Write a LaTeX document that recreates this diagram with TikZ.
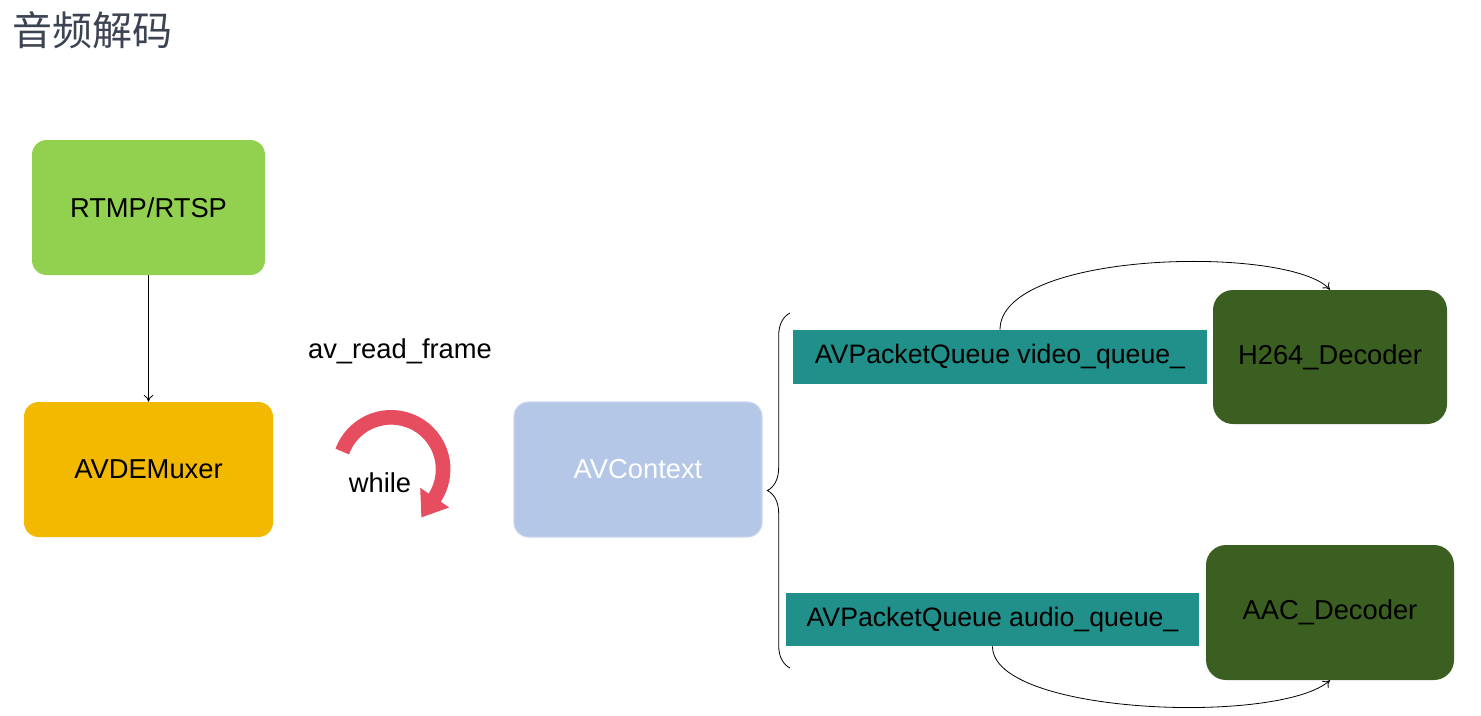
\documentclass[tikz,border=0pt]{standalone}
\usepackage{fontspec}
\setmainfont{Liberation Sans}
\newfontfamily\cjk{Noto Sans CJK SC}
\usepackage{tikz}
\usetikzlibrary{positioning,calc,arrows.meta,decorations.pathreplacing}
\definecolor{verdeclaro}{HTML}{92D050}
\definecolor{ouro}{HTML}{F2B900}
\definecolor{azulctx}{HTML}{B4C7E7}
\definecolor{azulborda}{HTML}{C9D6EE}
\definecolor{fila}{HTML}{21908A}
\definecolor{verdeesc}{HTML}{3B5E21}
\definecolor{vermelho}{HTML}{E64D5F}
\definecolor{titcor}{HTML}{3C4352}
\tikzset{
  bloco/.style={rounded corners=11pt,align=center,font=\fontsize{20.5}{24}\selectfont,text=black,inner sep=0pt},
  filabox/.style={fill=fila,align=center,font=\fontsize{20}{24}\selectfont,text=black,inner sep=0pt},
  lig/.style={black,line width=0.6pt,-{To[length=5pt,width=7pt]}},
  rot/.style={font=\fontsize{20.5}{24}\selectfont,text=black,inner sep=0pt},
}

\begin{document}
\begin{tikzpicture}[x=0.75pt,y=-0.75pt,
  laco/.style={vermelho,line width=11pt,-{Triangle[length=18pt,width=25pt]}},
  chave/.style={black,line width=0.6pt,decorate,decoration={brace,amplitude=17pt}}]
  \useasboundingbox (0,0) rectangle (1481,715);
  % --- titulo
  \node[font=\cjk\fontsize{30}{34}\selectfont,text=titcor,anchor=west,inner sep=0pt] (titulo) at (12,30) {音频解码};
  % --- fonte e demuxer
  \node[bloco,fill=verdeclaro,minimum width=174.75pt,minimum height=101.25pt] (rtmp) at (148.5,207.5) {RTMP/RTSP};
  \node[bloco,fill=ouro,minimum width=186.75pt,minimum height=101.25pt] (demux) at (148.5,469.5) {AVDEMuxer};
  \draw[lig] (rtmp) -- (demux);
  % --- leitura em laco
  \node[rot] (leitura) at (400,351) {av\_read\_frame};
  \draw[laco] (393,470) ++(200:54) arc[start angle=200, end angle=393, radius=52] -- ++(124:24);
  \node[rot] (enquanto) at (380,483) {while};
  % --- contexto
  \node[bloco,fill=azulctx,draw=azulborda,line width=0.8pt,text=white,minimum width=186pt,minimum height=101.25pt] (ctx) at (638,469.5) {AVContext};
  \coordinate (chavebaixo) at (790,668);
  \coordinate (chavecima) at (790,313);
  \draw[chave] (chavebaixo) -- (chavecima);
  % --- filas e decodificadores
  \node[filabox,minimum width=310.5pt,minimum height=40.5pt] (vfila) at (1000,357) {AVPacketQueue video\_queue\_};
  \node[bloco,fill=verdeesc,rounded corners=15pt,minimum width=175.5pt,minimum height=100.5pt] (h264) at (1330,357) {H264\_Decoder};
  \node[filabox,minimum width=309.75pt,minimum height=39.75pt] (afila) at (992.5,619.5) {AVPacketQueue audio\_queue\_};
  \node[bloco,fill=verdeesc,rounded corners=15pt,minimum width=186pt,minimum height=101.25pt] (aac) at (1330,612.5) {AAC\_Decoder};
  \draw[lig] (vfila.north) .. controls (1000,250) and (1290,245) .. (h264.north);
  \draw[lig] (afila.south) .. controls (992,715) and (1280,725) .. (aac.south);
\end{tikzpicture}
\end{document}
